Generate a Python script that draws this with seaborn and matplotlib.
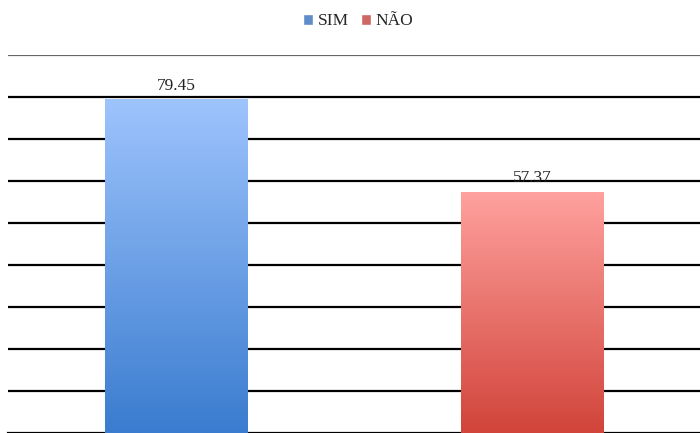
import numpy as np
import matplotlib
matplotlib.use("Agg")
import matplotlib.pyplot as plt
import seaborn as sns
from matplotlib.colors import LinearSegmentedColormap

categorias = ["SIM", "NÃO"]
valores = [79.45, 57.37]
cores_legenda = ["#4f89dc", "#e05552"]
gradientes = [("#9ec4fd", "#3a7ccf"), ("#ffa19e", "#d1443a")]
ticks_y = list(range(0, 100, 10))

sns.set_theme(style="white")
plt.rcParams["font.family"] = ["Liberation Serif", "DejaVu Serif"]

fig = plt.figure(figsize=(7, 4.33), dpi=100)
ax = fig.add_axes([8 / 700, 0.0, 1 - 8 / 700, 1 - 55 / 433])

sns.barplot(x=categorias, y=valores, hue=categorias, palette=cores_legenda,
            width=0.40, legend=True, ax=ax, zorder=3)

ax.set_ylim(0, 90)
ax.set_xlim(-0.473, 1.47)
ax.set_yticks(ticks_y)
ax.set_yticklabels([])
ax.set_xticks([])
ax.tick_params(length=0)
for s in ["left", "right", "top"]:
    ax.spines[s].set_visible(False)
ax.spines["bottom"].set_color("black")
ax.spines["bottom"].set_linewidth(1.6)

# linhas de grade
for t in ticks_y[1:]:
    cor = "#666666" if t == 90 else "black"
    ax.axhline(t, color=cor, lw=1.6, zorder=1)

# preenchimento em degradê de cada barra
for patch, (c_top, c_bot) in zip(ax.patches, gradientes):
    x0, y0 = patch.get_x(), patch.get_y()
    w, h = patch.get_width(), patch.get_height()
    cmap = LinearSegmentedColormap.from_list("g", [c_bot, c_top])
    grad = np.linspace(0, 1, 256).reshape(-1, 1)
    im = ax.imshow(grad, cmap=cmap, aspect="auto", origin="lower",
                   extent=(x0, x0 + w, y0, y0 + h), zorder=4)
    im.set_clip_path(patch)
    patch.set_facecolor("none")
    patch.set_edgecolor("none")

ax.set_xlim(-0.473, 1.47)
ax.set_ylim(0, 90)

for cont in ax.containers:
    ax.bar_label(cont, fmt="%.2f", padding=4, fontsize=12.5, color="#222222")

sns.move_legend(ax, "upper center", bbox_to_anchor=(0.512, 1.005),
                bbox_transform=fig.transFigure, ncol=2, frameon=False,
                fontsize=12.5, handlelength=0.55, handleheight=0.55,
                handletextpad=0.3, columnspacing=0.7, title=None)

fig.savefig("out.png", dpi=100)
